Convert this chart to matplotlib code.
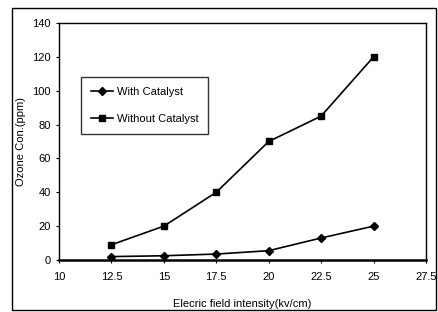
import matplotlib
matplotlib.use('Agg')
import matplotlib.pyplot as plt
from matplotlib.patches import Rectangle

# ── Data ───────────────────────────────────────────────────
field = [12.5, 15, 17.5, 20, 22.5, 25]
with_catalyst = [2, 2.5, 3.5, 5.5, 13, 20]
without_catalyst = [9, 20, 40, 70, 85, 120]
x_ticks = [10, 12.5, 15, 17.5, 20, 22.5, 25, 27.5]
x_tick_labels = ['10', '12.5', '15', '17.5', '20', '22.5', '25', '27.5']
y_ticks = [0, 20, 40, 60, 80, 100, 120, 140]

plt.rcParams['font.family'] = ['Liberation Sans', 'DejaVu Sans']

fig = plt.figure(figsize=(4.38, 3.12), dpi=100)
ax = fig.add_axes([0.1347, 0.1667, 0.8379, 0.7596])

ax.plot(field, with_catalyst, color='black', lw=1.2, marker='D',
        markersize=4.5, label='With Catalyst')
ax.plot(field, without_catalyst, color='black', lw=1.2, marker='s',
        markersize=5, label='Without Catalyst')

ax.set_xlim(10, 27.5)
ax.set_ylim(0, 140)
ax.set_xticks(x_ticks)
ax.set_xticklabels(x_tick_labels)
ax.set_yticks(y_ticks)
ax.tick_params(axis='x', labelsize=8, length=2, width=0.8, pad=7)
ax.tick_params(axis='y', labelsize=8, length=2, width=0.8, pad=4)

for side in ['top', 'right', 'left']:
    ax.spines[side].set_linewidth(1.0)
ax.spines['bottom'].set_linewidth(1.8)

ax.set_xlabel('Elecric field intensity(kv/cm)', fontsize=8, labelpad=12)
ax.set_ylabel('Ozone Con.(ppm)', fontsize=8, labelpad=4)

leg = ax.legend(loc='upper left', bbox_to_anchor=(0.06, 0.772), fontsize=8,
                frameon=True, fancybox=False, edgecolor='black',
                handlelength=2.0, labelspacing=1.5, borderpad=0.9,
                handletextpad=0.3, borderaxespad=0)
leg.get_frame().set_linewidth(1.0)

# outer frame around the whole chart
fig.patches.append(Rectangle((12 / 438, 2 / 312), 424 / 438, 302 / 312,
                             transform=fig.transFigure, fill=False,
                             edgecolor='black', lw=1.0))

plt.savefig('out.png', dpi=100)
